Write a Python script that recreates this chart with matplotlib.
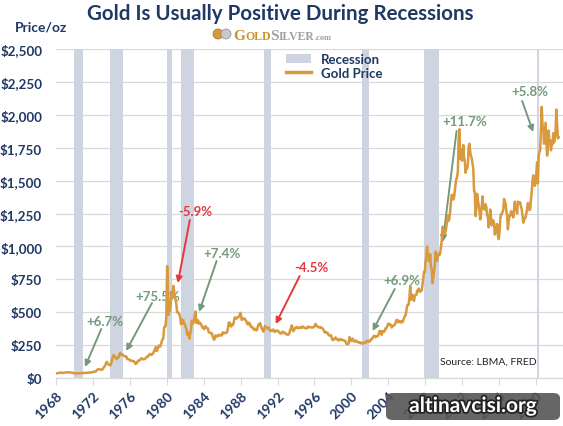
import numpy as np
import pandas as pd
import matplotlib
matplotlib.use("Agg")
import matplotlib.pyplot as plt
from matplotlib.patches import Patch, Ellipse, FancyBboxPatch
from matplotlib.lines import Line2D
import matplotlib.patheffects as pe

# ---------------- data ----------------
start_year = 1968
gold_price = [
    # 1968
    35.2, 35.2, 37.5, 37.7, 40.6, 41.1, 39.5, 39.2, 39.4, 39.3, 40.0, 41.1,
    # 1969
    42.4, 42.8, 43.2, 43.3, 43.5, 41.4, 41.7, 41.0, 40.5, 40.2, 37.4, 35.2,
    # 1970
    34.9, 34.9, 35.1, 35.6, 35.9, 35.4, 35.3, 35.4, 36.2, 37.5, 37.4, 37.4,
    # 1971
    37.9, 38.7, 38.9, 39.0, 40.5, 40.1, 41.0, 42.7, 42.0, 42.5, 42.9, 43.5,
    # 1972
    45.8, 48.3, 48.3, 49.0, 54.6, 62.1, 65.7, 67.0, 65.5, 64.9, 62.9, 63.9,
    # 1973
    65.1, 74.2, 84.4, 90.5, 102.0, 122.0, 120.2, 106.8, 103.0, 100.1, 94.9, 106.7,
    # 1974
    129.2, 150.2, 172.0, 172.2, 163.5, 154.1, 143.0, 154.6, 151.8, 158.8, 181.7, 192.0,
    # 1975
    175.8, 180.0, 177.8, 170.0, 167.0, 164.2, 165.2, 163.1, 144.6, 142.8, 142.8, 139.3,
    # 1976
    131.6, 130.6, 132.7, 128.4, 127.4, 125.7, 117.7, 106.0, 114.2, 116.0, 130.3, 133.9,
    # 1977
    132.3, 136.5, 148.3, 149.2, 146.6, 140.8, 143.4, 144.9, 149.4, 158.9, 162.1, 160.5,
    # 1978
    173.2, 178.2, 183.7, 175.3, 176.3, 183.7, 188.7, 206.1, 212.8, 235.0, 206.1, 207.8,
    # 1979
    227.3, 245.7, 242.1, 239.2, 257.6, 279.1, 294.7, 300.8, 380.0, 391.7, 392.5, 475.0,
    # 1980
    850.0, 665.3, 480.0, 517.4, 513.8, 600.7, 644.3, 627.2, 700.0, 661.1, 623.5, 594.9,
    # 1981
    557.6, 500.2, 498.2, 495.8, 479.7, 460.8, 409.3, 410.7, 443.2, 437.8, 413.4, 410.1,
    # 1982
    384.4, 374.2, 330.0, 350.4, 333.5, 300.0, 339.1, 364.0, 436.0, 422.1, 415.8, 444.3,
    # 1983
    480.1, 505.0, 419.7, 432.8, 438.4, 412.6, 422.6, 416.2, 411.9, 394.0, 381.6, 388.1,
    # 1984
    370.9, 386.4, 394.4, 381.4, 377.8, 377.7, 347.7, 347.6, 341.1, 340.2, 341.2, 320.2,
    # 1985
    302.8, 290.0, 303.6, 324.2, 316.6, 316.8, 317.4, 329.5, 323.5, 325.1, 325.6, 322.4,
    # 1986
    345.4, 338.9, 345.6, 340.4, 342.5, 342.6, 348.7, 376.6, 418.7, 423.6, 398.4, 391.3,
    # 1987
    408.2, 401.1, 408.9, 438.4, 460.3, 449.0, 451.0, 461.0, 460.1, 465.5, 468.1, 495.0,
    # 1988
    477.7, 442.1, 443.6, 451.5, 451.3, 451.5, 437.6, 431.6, 413.4, 406.8, 420.2, 418.5,
    # 1989
    404.0, 387.8, 390.2, 384.3, 371.0, 367.6, 374.9, 365.5, 361.8, 366.9, 393.5, 409.3,
    # 1990
    410.1, 416.8, 393.1, 374.3, 369.1, 352.3, 362.5, 394.7, 389.4, 380.7, 381.8, 376.5,
    # 1991
    383.6, 363.8, 363.3, 358.4, 356.8, 366.7, 367.6, 356.2, 348.7, 358.6, 359.6, 361.7,
    # 1992
    354.5, 354.0, 344.3, 338.6, 337.3, 340.8, 352.6, 343.2, 345.4, 344.4, 335.0, 334.7,
    # 1993
    329.0, 329.4, 330.1, 342.2, 367.2, 371.9, 400.0, 379.8, 355.3, 364.2, 373.8, 383.3,
    # 1994
    387.0, 382.0, 383.9, 377.3, 381.4, 385.6, 385.5, 380.4, 391.6, 389.8, 384.4, 379.3,
    # 1995
    378.6, 376.5, 382.1, 391.0, 385.3, 387.6, 386.2, 383.7, 383.1, 383.1, 385.9, 387.0,
    # 1996
    400.0, 412.0, 396.2, 392.8, 391.9, 385.3, 383.5, 387.5, 383.1, 381.1, 377.9, 369.3,
    # 1997
    354.1, 346.6, 351.8, 344.5, 343.8, 340.8, 324.1, 323.9, 322.8, 324.9, 306.0, 288.7,
    # 1998
    289.2, 297.5, 295.9, 308.4, 299.1, 292.3, 292.9, 284.1, 288.4, 296.1, 294.1, 291.6,
    # 1999
    287.1, 287.3, 286.0, 282.6, 276.4, 261.3, 256.2, 256.7, 264.7, 310.7, 293.2, 283.1,
    # 2000
    284.3, 299.9, 286.4, 279.7, 275.3, 285.7, 281.6, 274.5, 273.7, 270.0, 266.0, 271.5,
    # 2001
    265.5, 261.9, 263.0, 260.5, 272.4, 270.2, 267.5, 272.4, 283.4, 283.1, 276.2, 275.9,
    # 2002
    281.7, 295.5, 294.0, 302.7, 314.5, 321.2, 313.3, 310.3, 319.2, 316.6, 319.1, 332.0,
    # 2003
    356.9, 359.0, 340.6, 328.2, 355.7, 356.4, 351.0, 359.8, 378.9, 378.9, 389.9, 407.6,
    # 2004
    414.0, 405.3, 406.7, 403.0, 383.5, 392.4, 398.1, 400.5, 405.3, 420.5, 439.4, 442.1,
    # 2005
    424.0, 423.4, 434.2, 429.2, 421.9, 430.7, 424.5, 437.9, 456.0, 469.9, 476.7, 510.1,
    # 2006
    549.9, 555.0, 557.1, 610.6, 700.0, 596.2, 633.8, 632.6, 598.2, 585.8, 627.8, 629.8,
    # 2007
    631.2, 664.8, 654.9, 679.4, 666.9, 655.5, 665.3, 665.4, 712.7, 754.6, 806.3, 803.2,
    # 2008
    889.6, 922.3, 1000.0, 909.7, 888.7, 889.5, 939.8, 839.0, 829.9, 720.0, 760.9, 816.1,
    # 2009
    858.7, 960.0, 924.3, 890.2, 928.7, 945.7, 934.2, 949.4, 996.6, 1043.2, 1150.0, 1134.7,
    # 2010
    1117.9, 1095.4, 1113.3, 1148.7, 1205.4, 1232.9, 1193.0, 1215.8, 1271.0, 1342.0, 1390.0, 1391.0,
    # 2011
    1356.4, 1372.7, 1424.0, 1473.8, 1510.4, 1528.7, 1572.8, 1820.0, 1890.0, 1665.2, 1738.9, 1652.3,
    # 2012
    1656.1, 1770.0, 1673.8, 1650.1, 1560.0, 1596.7, 1593.9, 1626.0, 1760.0, 1780.0, 1721.6, 1684.8,
    # 2013
    1671.9, 1627.6, 1593.1, 1420.0, 1414.0, 1230.0, 1286.7, 1400.0, 1348.6, 1316.6, 1275.8, 1205.0,
    # 2014
    1244.3, 1300.0, 1380.0, 1299.0, 1287.5, 1279.1, 1320.0, 1295.1, 1236.6, 1222.5, 1145.0, 1202.3,
    # 2015
    1280.0, 1227.1, 1160.0, 1198.9, 1198.6, 1181.5, 1090.0, 1117.9, 1124.8, 1170.0, 1086.4, 1055.0,
    # 2016
    1097.9, 1199.5, 1245.1, 1242.3, 1260.9, 1276.4, 1360.0, 1340.2, 1326.6, 1266.6, 1238.4, 1130.0,
    # 2017
    1192.1, 1234.2, 1231.4, 1266.9, 1246.0, 1260.3, 1220.0, 1283.0, 1340.0, 1279.5, 1281.9, 1250.0,
    # 2018
    1340.0, 1330.7, 1324.7, 1334.8, 1303.5, 1281.6, 1237.7, 1180.0, 1198.4, 1215.4, 1220.7, 1250.4,
    # 2019
    1291.8, 1330.0, 1300.9, 1275.0, 1283.7, 1359.0, 1412.9, 1500.4, 1540.0, 1494.8, 1460.0, 1479.1,
    # 2020
    1560.7, 1640.0, 1480.0, 1690.0, 1715.9, 1732.2, 1900.0, 2060.0, 1921.9, 1900.3, 1780.0, 1858.4,
    # 2021
    1940.0, 1808.2, 1690.0, 1760.0, 1880.0, 1780.0, 1807.8, 1730.0, 1775.1, 1776.7, 1860.0, 1790.3,
    # 2022
    1816.0, 1880.0, 2040.0, 1936.9, 1820.0, 1830.0,
]

rec_start = ["1969-12", "1973-11", "1980-01", "1981-07", "1990-07", "2001-03", "2007-12", "2020-02"]
rec_end = ["1970-11", "1975-03", "1980-07", "1982-11", "1991-03", "2001-11", "2009-06", "2020-04"]

year_ticks = list(range(1968, 2021, 4))
price_ticks = list(range(0, 2501, 250))

ann_labels = ["+6.7%", "+75.5%", "-5.9%", "+7.4%", "-4.5%", "+6.9%", "+11.7%", "+5.8%"]
ann_positive = [True, True, False, True, False, True, True, True]

# ---------------- helpers ----------------
def dec_year(s, end=False):
    y, m = map(int, s.split("-"))
    return y + (m if end else m - 1) / 12.0

x_dates = start_year + (np.arange(len(gold_price)) + 0.5) / 12.0

NAVY = "#1F3864"
GOLD = "#D9993D"
REC = "#CFD4E1"
GREEN = "#74997C"
RED = "#E5383F"

W, H = 563, 427
fig = plt.figure(figsize=(W / 100, H / 100), dpi=100)
plt.rcParams["font.family"] = ["Lato", "DejaVu Sans"]

ax = fig.add_axes([56 / W, 1 - 379 / H, (563 - 56) / W, (379 - 50) / H])
ax.set_xlim(1968, 1968 + 507 / 9.23)
ax.set_ylim(0, 2500)

for s, e in zip(rec_start, rec_end):
    ax.axvspan(dec_year(s), dec_year(e, True), color=REC, lw=0, zorder=1)

ax.plot(x_dates, gold_price, color=GOLD, lw=1.8, zorder=4, solid_joinstyle="round")

ax.set_yticks(price_ticks)
ax.set_yticklabels([f"${v:,}" for v in price_ticks])
ax.set_xticks(year_ticks)
ax.set_xticklabels([str(y) for y in year_ticks], rotation=45, ha="right", rotation_mode="anchor")

ax.grid(axis="y", color="#D9D9D9", lw=0.9, zorder=0)
ax.set_axisbelow(True)
for sp in ["top", "right", "left"]:
    ax.spines[sp].set_visible(False)
ax.spines["bottom"].set_color("#D9D9D9")
ax.spines["bottom"].set_linewidth(0.9)
ax.tick_params(axis="y", length=0, pad=10, labelsize=9.6, labelcolor=NAVY)
ax.tick_params(axis="x", length=5, color="#D9D9D9", pad=3, labelsize=10, labelcolor=NAVY)
for lab in ax.get_yticklabels() + ax.get_xticklabels():
    lab.set_fontweight("bold")

# annotations
ann_text_xy = [(1973.3, 433), (1979.05, 623), (1983.06, 1269), (1986.0, 950),
               (1995.7, 843), (2005.5, 745), (2012.3, 1953), (2019.35, 2181)]
ann_tail_xy = [(1972.9, 372), (1978.4, 570), (1982.5, 1200), (1985.4, 889),
               (1994.4, 775), (2004.7, 676), (2011.4, 1877), (2018.5, 2105)]
ann_tip_xy = [(1971.14, 84), (1975.6, 205), (1981.2, 722), (1983.5, 502),
              (1991.8, 410), (2002.3, 357), (2009.9, 1033), (2019.7, 1869)]
for lab, pos, txy, tail, tip in zip(ann_labels, ann_positive, ann_text_xy, ann_tail_xy, ann_tip_xy):
    c = GREEN if pos else RED
    ax.text(txy[0], txy[1], lab, color=c, fontsize=9.5, fontweight="bold",
            ha="center", va="center", zorder=3)
    ax.annotate("", xy=tip, xytext=tail, zorder=3,
                arrowprops=dict(arrowstyle="-|>", color=c, lw=1.4, mutation_scale=9,
                                shrinkA=0, shrinkB=0))

ax.text(2009.6, 129, "Source: LBMA, FRED", fontsize=7.5, color="#222222",
        ha="left", va="center", zorder=5)

# legend
handles = [Patch(facecolor=REC, edgecolor="none"),
           Line2D([0], [0], color=GOLD, lw=2.5)]
fig.legend(handles, ["Recession", "Gold Price"], loc="upper left",
           bbox_to_anchor=(281 / W, 1 - 49 / H), frameon=False,
           prop=dict(weight="bold", size=9.5), labelcolor=NAVY,
           handlelength=1.9, handleheight=0.6, labelspacing=0.1, handletextpad=0.7,
           borderaxespad=0)

# title & labels
fig.text(280 / W, 1 - 14 / H, "Gold Is Usually Positive During Recessions",
         ha="center", va="center", fontsize=14.8, fontweight="bold", color=NAVY)
fig.text(41 / W, 1 - 28 / H, "Price/oz", ha="center", va="center",
         fontsize=10, fontweight="bold", color=NAVY)

# GoldSilver logo
fig.patches.append(Ellipse((218 / W, 1 - 35 / H), 10 / W, 10 / H, transform=fig.transFigure,
                           facecolor="#D49A3A", edgecolor="#A77420", lw=0.5))
fig.patches.append(Ellipse((226 / W, 1 - 35 / H), 10 / W, 10 / H, transform=fig.transFigure,
                           facecolor="#C8C8C8", edgecolor="#909090", lw=0.5))
fig.canvas.draw()
renderer = fig.canvas.get_renderer()
xcur = 233
pieces = [("G", 11, "#C9922E"), ("OLD", 8.5, "#C9922E"), ("S", 11, "#A0A0A0"),
          ("ILVER", 8.5, "#A0A0A0"), (".com", 6, "#A0A0A0")]
for txt, sz, col in pieces:
    t = fig.text(xcur / W, 1 - 39.5 / H, txt, ha="left", va="baseline", fontsize=sz,
                 color=col, family=["Liberation Serif"], fontweight="bold")
    bb = t.get_window_extent(renderer)
    xcur += bb.width

# watermark
fig.patches.append(FancyBboxPatch((386 / W, 1 - 421 / H), 174 / W, 27 / H,
                                  boxstyle="round,pad=0,rounding_size=0.012",
                                  transform=fig.transFigure, facecolor="#555555",
                                  edgecolor="none", alpha=0.9, zorder=10))
fig.text(473 / W, 1 - 407 / H, "altinavcisi.org", ha="center", va="center",
         fontsize=15, fontweight="bold", color="white", zorder=11,
         path_effects=[pe.withStroke(linewidth=2.5, foreground="#222222")])

fig.savefig("out.png", dpi=100)
